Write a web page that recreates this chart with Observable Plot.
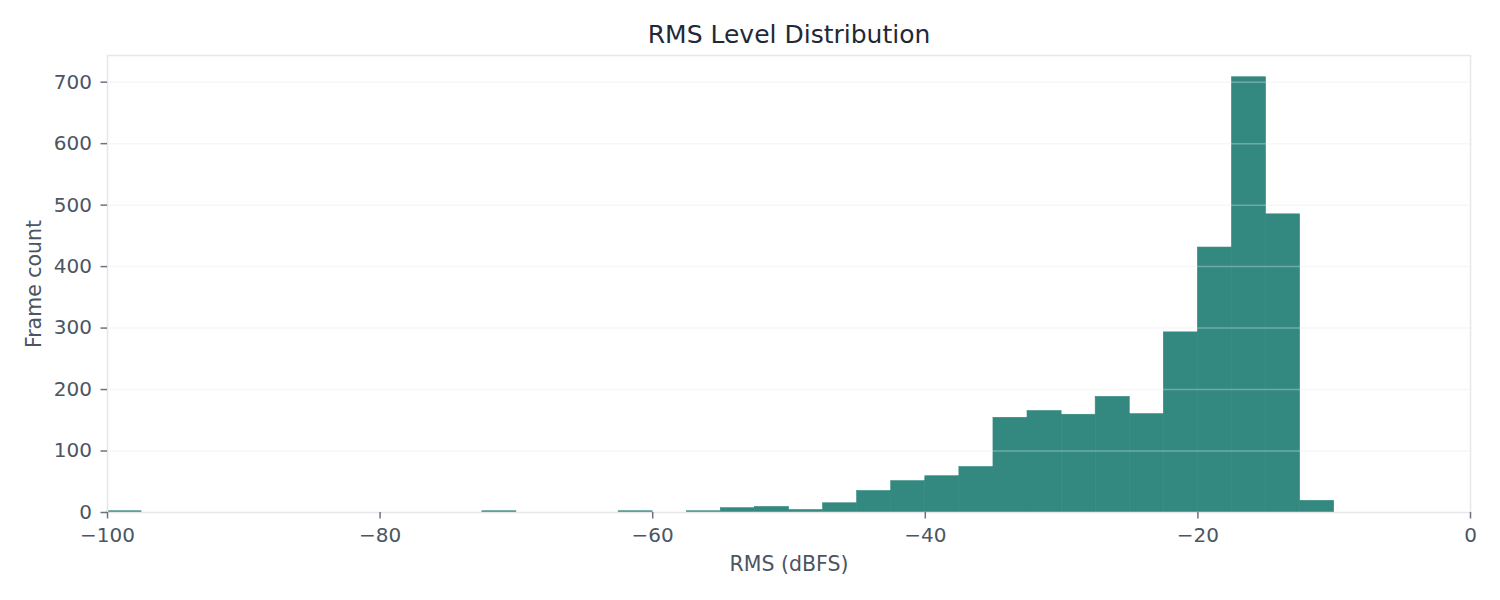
<!DOCTYPE html>
<html>
<head>
<meta charset="utf-8">
<script src="https://cdn.jsdelivr.net/npm/d3@7"></script>
<script src="https://cdn.jsdelivr.net/npm/@observablehq/plot@0.6"></script>
<style>
  html, body { margin: 0; padding: 0; background: #fff; }
  #chart svg { display: block; }
</style>
</head>
<body>
<div id="chart"></div>
<script>
// Histogram bin edges (dBFS)
const binEdges = [-100, -97.5, -95, -92.5, -90, -87.5, -85, -82.5, -80, -77.5,
  -75, -72.5, -70, -67.5, -65, -62.5, -60, -57.5, -55, -52.5,
  -50, -47.5, -45, -42.5, -40, -37.5, -35, -32.5, -30, -27.5,
  -25, -22.5, -20, -17.5, -15, -12.5, -10, -7.5, -5, -2.5, 0];
// Frame counts per bin
const counts = [2, 0, 0, 0, 0, 0, 0, 0, 0, 0,
  0, 2, 0, 0, 0, 2, 0, 2, 7, 9,
  4, 15, 35, 51, 59, 74, 154, 165, 159, 188,
  160, 293, 431, 708, 485, 19, 0, 0, 0, 0];
const xTicks = [-100, -80, -60, -40, -20, 0];
const yTicks = [0, 100, 200, 300, 400, 500, 600, 700];
const titleText = "RMS Level Distribution";
const xLabel = "RMS (dBFS)";
const yLabel = "Frame count";

const bins = counts.map((c, i) => ({x1: binEdges[i], x2: binEdges[i + 1], count: c}));

const fmt = d3.format("d");
const barColor = "#33897f";
const chart = Plot.plot({
  width: 1500,
  height: 600,
  marginLeft: 107,
  marginRight: 30,
  marginTop: 55,
  marginBottom: 88,
  style: {fontFamily: "DejaVu Sans", fontSize: "19px", background: "#fff", color: "#4b5563"},
  x: {domain: [-100, 0]},
  y: {domain: [0, 743.4]},
  marks: [
    Plot.rectY(bins.filter(d => d.count > 0), {x1: "x1", x2: "x2", y1: 0, y2: "count", fill: barColor, stroke: barColor, strokeWidth: 0.6, inset: 0}),
    Plot.gridY(yTicks.slice(1), {stroke: "#e5e7eb", strokeOpacity: 0.35, strokeWidth: 1.5}),
    Plot.frame({stroke: "#e5e7eb", strokeWidth: 1.5}),
    Plot.axisX(xTicks, {tickSize: 6.5, tickPadding: 9, tickFormat: fmt, stroke: "#6b7280", strokeWidth: 1.5, fill: "#4b5563", fontSize: 20, label: null}),
    Plot.axisY(yTicks, {tickSize: 6.5, tickPadding: 9, tickFormat: fmt, stroke: "#6b7280", strokeWidth: 1.5, fill: "#4b5563", fontSize: 20, label: null}),
    Plot.text([titleText], {frameAnchor: "top", dy: -30, fontSize: 25, fill: "#1f2937", text: d => d}),
    Plot.text([xLabel], {frameAnchor: "bottom", dy: 58, fontSize: 20.5, fill: "#4b5563", text: d => d}),
    Plot.text([yLabel], {frameAnchor: "left", textAnchor: "middle", dx: -73, rotate: -90, fontSize: 20.5, fill: "#4b5563", text: d => d})
  ]
});
document.getElementById("chart").appendChild(chart);
</script>
</body>
</html>
